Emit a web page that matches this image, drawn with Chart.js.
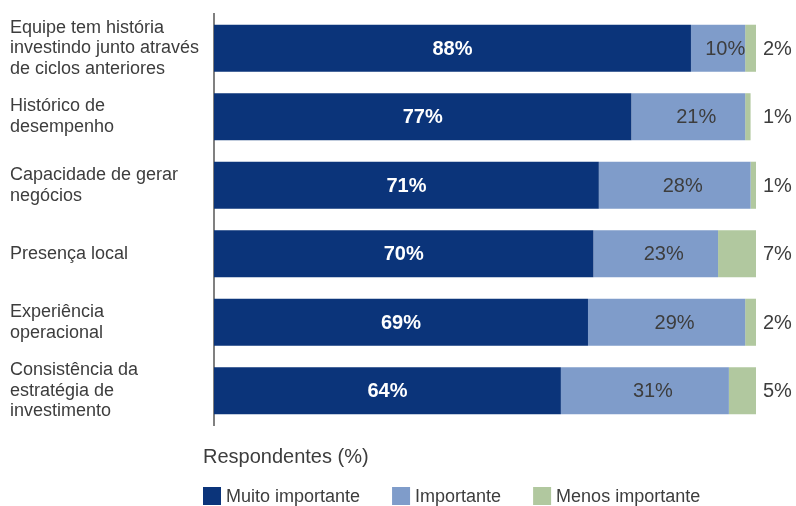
<!DOCTYPE html>
<html>
<head>
<meta charset="utf-8">
<script src="https://cdn.jsdelivr.net/npm/chart.js@4.4.1/dist/chart.umd.min.js"></script>
<style>
  html, body { margin: 0; padding: 0; background: #fff; }
  #wrap { width: 796px; height: 506px; position: relative; }
</style>
</head>
<body>
<div id="wrap"><canvas id="chart"></canvas></div>
<script>
const categories = [
    ['Equipe tem história', 'investindo junto através', 'de ciclos anteriores'],
    ['Histórico de', 'desempenho'],
    ['Capacidade de gerar', 'negócios'],
    'Presença local',
    ['Experiência', 'operacional'],
    ['Consistência da', 'estratégia de', 'investimento']
];
const muitoImportante = [88, 77, 71, 70, 69, 64];
const importante = [10, 21, 28, 23, 29, 31];
const menosImportante = [2, 1, 1, 7, 2, 5];
const seriesNames = ['Muito importante', 'Importante', 'Menos importante'];
const legendTitle = 'Respondentes (%)';

const colors = ['#0b347a', '#7f9cca', '#b1c89f'];
const textColor = '#3d3d3d';
const fontFamily = "'Liberation Sans', Arial, sans-serif";

// value labels: inside the first two segments, to the right of the bar for the last one
const valueLabels = {
    id: 'valueLabels',
    afterDatasetsDraw(chart) {
        const ctx = chart.ctx;
        const area = chart.chartArea;
        ctx.save();
        ctx.textBaseline = 'middle';
        chart.data.datasets.forEach((ds, i) => {
            const meta = chart.getDatasetMeta(i);
            meta.data.forEach((bar, j) => {
                const text = ds.data[j] + '%';
                const left = Math.min(bar.x, bar.base);
                const right = Math.max(bar.x, bar.base);
                if (i === 0) {
                    ctx.font = 'bold 20px ' + fontFamily;
                    ctx.fillStyle = '#ffffff';
                    ctx.textAlign = 'center';
                    ctx.fillText(text, (left + right) / 2, bar.y + 1);
                } else if (i === 1) {
                    ctx.font = '20px ' + fontFamily;
                    ctx.fillStyle = textColor;
                    ctx.textAlign = 'center';
                    const w = ctx.measureText(text).width;
                    let cx = (left + right) / 2 + 8;
                    if (cx + w / 2 > right) cx = right - w / 2;
                    ctx.fillText(text, cx, bar.y + 1);
                } else {
                    ctx.font = '20px ' + fontFamily;
                    ctx.fillStyle = textColor;
                    ctx.textAlign = 'left';
                    ctx.fillText(text, area.right + 7, bar.y + 1);
                }
            });
        });
        ctx.restore();
    }
};

// title and series keys under the chart
const bottomLegend = {
    id: 'bottomLegend',
    afterDraw(chart) {
        const ctx = chart.ctx;
        const x0 = 203;
        ctx.save();
        ctx.textBaseline = 'middle';
        ctx.textAlign = 'left';
        ctx.fillStyle = textColor;
        ctx.font = '20px ' + fontFamily;
        ctx.fillText(legendTitle, x0, 457);

        ctx.font = '18px ' + fontFamily;
        let x = x0;
        chart.data.datasets.forEach((ds) => {
            ctx.fillStyle = ds.backgroundColor;
            ctx.fillRect(x, 487, 18, 18);
            ctx.fillStyle = textColor;
            ctx.fillText(ds.label, x + 23, 497);
            x += 23 + ctx.measureText(ds.label).width + 32;
        });
        ctx.restore();
    }
};

new Chart(document.getElementById('chart'), {
    type: 'bar',
    data: {
        labels: categories,
        datasets: [
            { label: seriesNames[0], data: muitoImportante, backgroundColor: colors[0] },
            { label: seriesNames[1], data: importante, backgroundColor: colors[1] },
            { label: seriesNames[2], data: menosImportante, backgroundColor: colors[2] }
        ]
    },
    options: {
        indexAxis: 'y',
        responsive: true,
        maintainAspectRatio: false,
        animation: false,
        layout: { padding: { left: 10, top: 14, right: 40, bottom: 81 } },
        datasets: {
            bar: { categoryPercentage: 1, barPercentage: 0.687, borderWidth: 0 }
        },
        scales: {
            x: {
                stacked: true,
                display: false,
                min: 0,
                max: 100
            },
            y: {
                stacked: true,
                grid: { display: false },
                border: { display: true, color: '#808080', width: 2 },
                afterFit(scale) {
                    scale.width = 204;
                    // multi-line labels may overflow the plot area; keep it fixed
                    scale.paddingTop = 0;
                    scale.paddingBottom = 0;
                },
                ticks: {
                    crossAlign: 'far',
                    color: textColor,
                    font: { family: fontFamily, size: 18, lineHeight: 1.15 }
                }
            }
        },
        plugins: {
            legend: { display: false },
            tooltip: { enabled: false }
        }
    },
    plugins: [valueLabels, bottomLegend]
});
</script>
</body>
</html>
